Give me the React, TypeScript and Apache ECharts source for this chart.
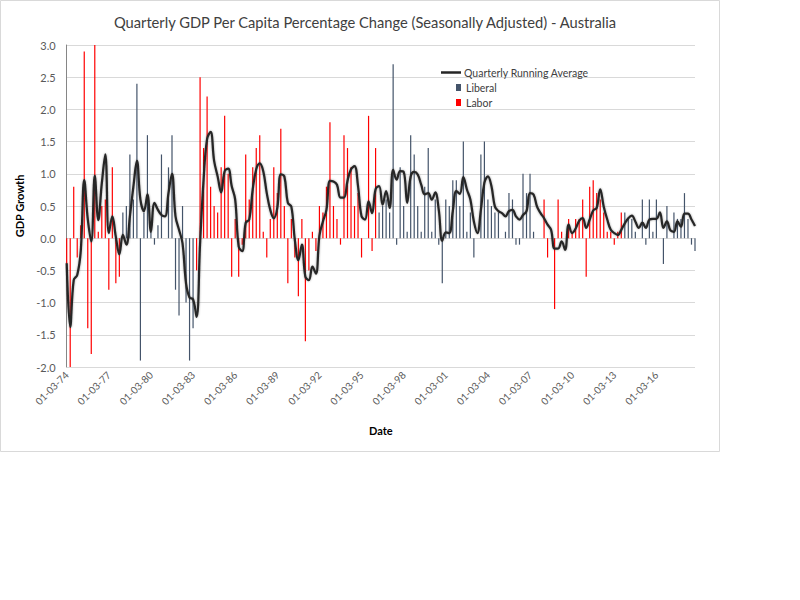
import { useEffect, useRef } from "react";
import * as echarts from "echarts";

// quarterly GDP per capita % change, Mar-1974 .. Dec-2018
const gdpChange = [
  -0.4, -2.0, 0.8, -0.3, 0.2, 2.9, -1.4, -1.8, 3.0, 0.1, 0.5, 0.6, -0.8, 1.1, -0.7, -0.6,
  0.4, 0.5, 1.3, 0.6, 2.4, -1.9, 0.4, 1.6, 0.1, -0.1, 0.2, 1.3, 0.0, 1.1, 1.6, -0.8,
  -1.2, 0.5, -1.0, -1.9, -1.4, -0.5, 2.5, 1.4, 2.2, 0.8, 0.5, 0.4, 1.1, 1.9, 1.0, -0.6,
  0.3, -0.6, -0.1, 1.3, 0.6, 1.1, 1.4, 1.6, 0.1, -0.3, 0.3, 1.1, 0.7, 1.7, 0.5, -0.7,
  0.3, -0.3, -0.9, 0.3, -1.6, -0.5, 0.1, -0.2, 0.5, 0.4, 0.8, 1.8, 0.5, 0.3, -0.1, 1.6,
  1.4, 1.1, 0.5, 0.7, -0.3, 0.0, 1.9, -0.2, 1.4, 0.4, 0.5, 0.6, 0.4, 2.7, -0.1, 1.1,
  0.5, 0.1, 1.6, 1.3, 0.5, 0.1, 0.8, 1.4, 0.1, 0.6, -0.1, -0.7, 0.6, 0.5, 0.9, 0.9,
  0.5, 1.5, 0.1, 0.4, -0.3, 0.0, 1.3, 1.5, 0.6, 0.5, 0.4, 0.4, 0.0, 0.1, 0.7, 0.6,
  -0.1, -0.1, 1.0, 0.7, 1.0, 0.1, 0.0, 0.0, 0.6, -0.3, 0.0, -1.1, 0.6, 0.1, 0.0, 0.3,
  0.1, 0.3, 0.3, 0.6, -0.6, 0.8, 0.9, 0.7, 0.6, 0.4, 0.1, 0.1, -0.1, 0.1, 0.4, 0.4,
  0.3, 0.3, 0.1, 0.0, 0.6, -0.1, 0.6, 0.1, 0.6, 0.0, -0.4, 0.5, 0.0, 0.4, 0.3, 0.3,
  0.7, 0.3, -0.1, -0.2,
];

const runningAvg = [
  -0.39, -1.38, -0.65, -0.57, -0.2, 0.9, 0.3, -0.05, 0.97, 0.28, 0.85, 1.3, 0.08, 0.34, 0.02, -0.25,
  0.05, -0.1, 0.34, 0.8, 1.2, 0.6, 0.42, 0.68, 0.1, 0.55, 0.44, 0.36, 0.34, 0.7, 1.0, 0.34,
  0.13, -0.08, -0.7, -0.92, -0.95, -1.22, -0.08, 0.91, 1.54, 1.65, 1.2, 0.96, 0.71, 1.04, 1.08, 0.81,
  0.6, -0.13, -0.2, 0.24, 0.29, 0.76, 1.07, 1.16, 1.04, 0.7, 0.44, 0.31, 0.47, 0.99, 0.96, 0.55,
  0.49, -0.03, -0.34, -0.1, -0.6, -0.65, -0.44, -0.55, 0.04, 0.26, 0.44, 0.89, 0.88, 0.83, 0.63, 0.63,
  0.89, 1.07, 1.12, 0.81, 0.34, 0.29, 0.57, 0.39, 0.76, 0.81, 0.52, 0.73, 0.47, 1.06, 0.91, 1.04,
  1.03, 0.55, 0.96, 1.03, 0.99, 0.83, 0.68, 0.7, 0.6, 0.71, 0.44, -0.04, 0.09, 0.08, 0.42, 0.73,
  0.69, 0.95, 0.76, 0.6, 0.26, 0.08, 0.44, 0.86, 0.96, 0.81, 0.49, 0.42, 0.39, 0.34, 0.42, 0.44,
  0.34, 0.29, 0.36, 0.42, 0.7, 0.68, 0.49, 0.39, 0.31, 0.21, 0.13, -0.16, -0.16, -0.05, -0.18, 0.21,
  0.08, 0.15, 0.27, 0.31, 0.16, 0.29, 0.43, 0.47, 0.76, 0.49, 0.29, 0.13, 0.08, 0.05, 0.13, 0.23,
  0.31, 0.35, 0.26, 0.16, 0.24, 0.16, 0.29, 0.3, 0.3, 0.4, 0.16, 0.26, 0.12, 0.1, 0.26, 0.18,
  0.38, 0.38, 0.29, 0.19,
];

// party in government, as [party, number of quarters]
const governments: [string, number][] = [
  ["Labor", 16],
  ["Liberal", 21],
  ["Labor", 52],
  ["Liberal", 47],
  ["Labor", 23],
  ["Liberal", 21],
];

const startYear = 1974;
const quarterMonths = ["03", "06", "09", "12"];
const dates = gdpChange.map((_, i) => {
  const yy = String((startYear + Math.floor(i / 4)) % 100).padStart(2, "0");
  return `01-${quarterMonths[i % 4]}-${yy}`;
});

const partyOf: string[] = [];
for (const [p, n] of governments) for (let k = 0; k < n; k++) partyOf.push(p);

const liberal = gdpChange.map((v, i) => (partyOf[i] === "Liberal" ? v : null));
const labor = gdpChange.map((v, i) => (partyOf[i] === "Labor" ? v : null));

const FONT = "Lato, 'Open Sans', sans-serif";

export default function App() {
  const ref = useRef<HTMLDivElement>(null);

  useEffect(() => {
    document.body.style.margin = "0";
    if (!ref.current) return;
    const chart = echarts.init(ref.current, undefined, { renderer: "svg" });
    chart.setOption({
      animation: false,
      backgroundColor: "#fff",
      textStyle: { fontFamily: FONT },
      title: {
        text: "Quarterly GDP Per Capita Percentage Change (Seasonally Adjusted) - Australia",
        left: 360,
        textAlign: "center",
        top: 9,
        textStyle: { fontFamily: FONT, fontSize: 14.7, fontWeight: "normal", color: "#404040" },
      },
      graphic: [
        {
          type: "rect",
          shape: { x: 0.5, y: 0.5, width: 719, height: 451 },
          style: { fill: "none", stroke: "#d9d9d9", lineWidth: 1 },
          silent: true,
        },
      ],
      legend: [
        {
          data: ["Quarterly Running Average"],
          left: 436,
          top: 62,
          icon: "rect",
          itemWidth: 20,
          itemHeight: 2.5,
          textStyle: { fontFamily: FONT, fontSize: 10.5, color: "#404040", padding: [0, 0, 0, -2] },
        },
        {
          data: ["Liberal", "Labor"],
          orient: "vertical",
          left: 451,
          top: 77,
          icon: "rect",
          itemWidth: 5,
          itemHeight: 7,
          itemGap: 4,
          textStyle: { fontFamily: FONT, fontSize: 10.5, color: "#404040" },
        },
      ],
      grid: { left: 66.7, right: 105, top: 45, bottom: 233 },
      xAxis: {
        type: "category",
        data: dates,
        boundaryGap: false,
        name: "Date",
        nameLocation: "middle",
        nameGap: 58,
        nameTextStyle: { fontFamily: FONT, fontSize: 11, fontWeight: "bold", color: "#000" },
        axisLine: { show: false, onZero: false },
        axisTick: { show: false },
        axisLabel: {
          interval: 11,
          rotate: 45,
          margin: 6,
          fontFamily: FONT,
          fontSize: 10,
          color: "#595959",
        },
        splitLine: { show: false },
      },
      yAxis: {
        type: "value",
        min: -2,
        max: 3,
        interval: 0.5,
        name: "GDP Growth",
        nameLocation: "middle",
        nameGap: 33,
        nameTextStyle: { fontFamily: FONT, fontSize: 11, fontWeight: "bold", color: "#000" },
        axisLine: { show: true, lineStyle: { color: "#868686", width: 1 } },
        axisTick: { show: false },
        axisLabel: {
          margin: 11,
          fontFamily: FONT,
          fontSize: 11,
          color: "#595959",
          formatter: (v: number) => v.toFixed(1),
        },
        splitLine: { lineStyle: { color: "#d9d9d9", width: 1 } },
      },
      series: [
        {
          name: "Liberal",
          type: "bar",
          stack: "gov",
          data: liberal,
          barWidth: 1.2,
          itemStyle: { color: "#44546A" },
        },
        {
          name: "Labor",
          type: "bar",
          stack: "gov",
          data: labor,
          barWidth: 1.2,
          itemStyle: { color: "#FF0000" },
        },
        {
          name: "Quarterly Running Average",
          type: "line",
          data: runningAvg,
          smooth: 0.4,
          symbol: "none",
          z: 5,
          itemStyle: { color: "#262626" },
          lineStyle: {
            color: "#262626",
            width: 2.25,
            shadowBlur: 2,
            shadowColor: "rgba(0,0,0,0.35)",
          },
        },
      ],
    });
    return () => chart.dispose();
  }, []);

  return <div ref={ref} style={{ width: 800, height: 600 }} />;
}
